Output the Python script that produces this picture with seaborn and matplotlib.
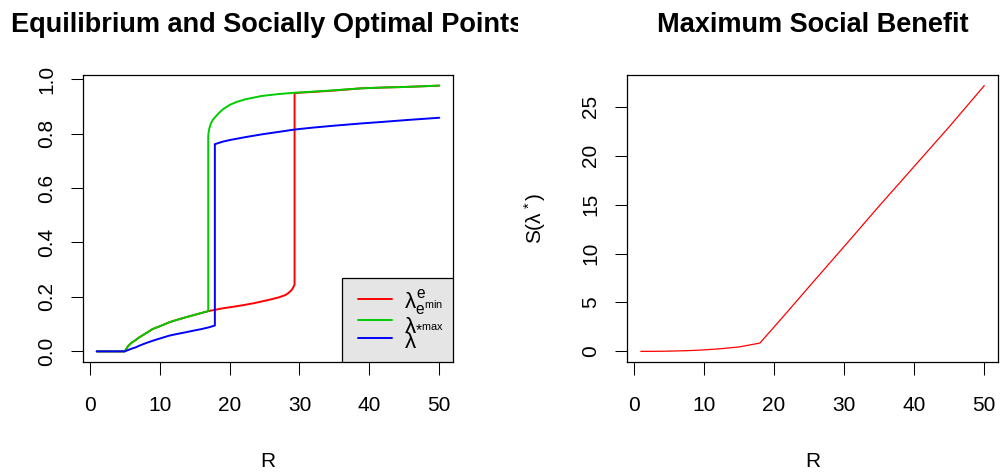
import matplotlib
matplotlib.use("Agg")
import matplotlib.pyplot as plt
import seaborn as sns
from matplotlib.lines import Line2D
from matplotlib.legend_handler import HandlerLine2D
from matplotlib.transforms import Bbox, TransformedBbox

# values
r_emin = [1, 5, 5.5, 6, 6.6, 7, 8, 9, 10, 11.4, 12.5, 13.7, 15, 16, 17, 18, 19, 20.8, 22, 23.5,
          25.6, 27, 28, 28.4, 28.8, 29.05, 29.2, 29.3, 29.3, 30, 32, 35, 38.8, 42, 45, 50]
lam_emin = [0, 0, 0.02, 0.032, 0.042, 0.05, 0.066, 0.082, 0.092, 0.107, 0.116, 0.125, 0.134, 0.141,
            0.148, 0.153, 0.158, 0.165, 0.17, 0.177, 0.189, 0.198, 0.207, 0.214, 0.223, 0.232,
            0.24, 0.246, 0.948, 0.950, 0.953, 0.958, 0.966, 0.969, 0.971, 0.976]

r_smax = [1, 5, 5.5, 6, 6.6, 7, 8, 9, 10, 11.4, 12.5, 13.7, 15, 16, 16.95, 16.95, 17.0, 17.1,
          17.3, 17.6, 18, 18.5, 19, 20, 21, 22.3, 24.6, 27, 29.4, 32, 35, 38.8, 42, 45, 50]
lam_smax = [0, 0, 0.02, 0.032, 0.042, 0.05, 0.066, 0.082, 0.092, 0.107, 0.116, 0.125, 0.134, 0.141,
            0.148, 0.79, 0.803, 0.818, 0.835, 0.85, 0.862, 0.876, 0.888, 0.905, 0.916, 0.926,
            0.938, 0.945, 0.950, 0.954, 0.959, 0.966, 0.969, 0.971, 0.976]

r_lam = [1, 5, 5.5, 6, 6.6, 7, 8, 9, 10, 11.4, 12.5, 13.7, 15, 16, 17, 17.9, 17.9, 19, 20, 22.3,
         24.6, 27, 29.4, 32, 35, 38.8, 42, 45, 50]
lam = [0, 0, 0.005, 0.01, 0.015, 0.02, 0.03, 0.039, 0.047, 0.058, 0.064, 0.070, 0.077, 0.082,
       0.088, 0.095, 0.761, 0.77, 0.776, 0.787, 0.797, 0.806, 0.815, 0.822, 0.829, 0.837, 0.843,
       0.849, 0.858]

r_s = [1, 4, 7.6, 10, 12.4, 15, 18, 21.4, 25, 31, 35, 40.5, 45, 50]
s_max = [0, 0.01, 0.07, 0.15, 0.27, 0.45, 0.85, 3.62, 6.6, 11.53, 14.85, 19.3, 22.95, 27.15]

legend_labels = [r'$\lambda^{e}_{e^{min}}$', r'$\lambda_{*^{max}}$', r'$\lambda$']
line_colors = ['#FF0000', '#00CD00', '#0000FF']

sns.set_style("white")
plt.rcParams['font.family'] = ['Liberation Sans', 'DejaVu Sans']
plt.rcParams['mathtext.fontset'] = 'custom'
plt.rcParams['mathtext.rm'] = 'Liberation Sans'
plt.rcParams['mathtext.it'] = 'Liberation Sans'
plt.rcParams['mathtext.bf'] = 'Liberation Sans:bold'
plt.rcParams['text.color'] = 'black'
plt.rcParams['axes.labelcolor'] = 'black'

fig = plt.figure(figsize=(10.03, 4.76), dpi=100)
ax1 = fig.add_axes([83 / 1003, 1 - 362 / 476, 370 / 1003, 287 / 476])
ax2 = fig.add_axes([627 / 1003, 1 - 362 / 476, 371 / 1003, 287 / 476])

sns.lineplot(x=r_emin, y=lam_emin, color=line_colors[0], lw=1.4, estimator=None, sort=False, ax=ax1)
sns.lineplot(x=r_smax, y=lam_smax, color=line_colors[1], lw=1.4, estimator=None, sort=False, ax=ax1)
sns.lineplot(x=r_lam, y=lam, color=line_colors[2], lw=1.4, estimator=None, sort=False, ax=ax1)

sns.lineplot(x=r_s, y=s_max, color='#FF0000', lw=0.9, estimator=None, sort=False, ax=ax2)

ax1.set_xlim(-0.96, 51.96)
ax1.set_ylim(-0.039, 1.015)
ax1.set_xticks([0, 10, 20, 30, 40, 50])
ax1.set_yticks([0, 0.2, 0.4, 0.6, 0.8, 1.0])
ax1.set_yticklabels(['0.0', '0.2', '0.4', '0.6', '0.8', '1.0'])

ax2.set_xlim(-0.96, 51.96)
ax2.set_ylim(-1.086, 28.24)
ax2.set_xticks([0, 10, 20, 30, 40, 50])
ax2.set_yticks([0, 5, 10, 15, 20, 25])

for ax in (ax1, ax2):
    for sp in ax.spines.values():
        sp.set_visible(True)
        sp.set_color('black')
        sp.set_linewidth(0.9)
    ax.tick_params(axis='both', which='major', bottom=True, left=True, top=False, right=False,
                   direction='out', length=9, width=0.75, color='black',
                   labelsize=15, labelcolor='black')
    ax.tick_params(axis='x', pad=15.5)
    ax.tick_params(axis='y', pad=10.4)
    for t in ax.get_yticklabels():
        t.set_rotation(90)
        t.set_va('center')
    ax.set_xlabel('R', fontsize=15, va='baseline', color='black')
    ax.xaxis.set_label_coords(0.5, -0.367)

ax1.set_ylabel('')
ax2.set_ylabel(r'S($\lambda^*$)', fontsize=15, va='baseline', color='black')
ax2.yaxis.set_label_coords(-0.23, 0.5)

t1 = ax1.set_title('Equilibrium and Socially Optimal Points', fontsize=19.5, fontweight='bold',
                   pad=31.2, color='black')
t1.set_clip_box(TransformedBbox(Bbox([[0, 0], [518 / 1003, 1]]), fig.transFigure))
t1.set_clip_on(True)
ax2.set_title('Maximum Social Benefit', fontsize=19.5, fontweight='bold', pad=31.2, color='black')

# legend sits in the bottom right corner, text cut by the plot box like in R
handles = [Line2D([], [], color=c, lw=1.4) for c in line_colors]
leg = ax1.legend(handles, legend_labels, loc='lower left', bbox_to_anchor=((342 - 83) / 370, 0),
                 borderaxespad=0, fontsize=16, frameon=True, fancybox=False, facecolor='#E5E5E5',
                 edgecolor='black', framealpha=1, handlelength=1.84, handleheight=1.3,
                 handletextpad=0.55, labelspacing=-0.31, borderpad=0.41,
                 handler_map={Line2D: HandlerLine2D(xpad=0.31)})
leg.get_frame().set_linewidth(0.9)
for art in leg.get_texts() + leg.get_lines() + [leg.get_frame()]:
    art.set_clip_box(ax1.bbox)
    art.set_clip_on(True)

plt.savefig('out.png', dpi=100)
